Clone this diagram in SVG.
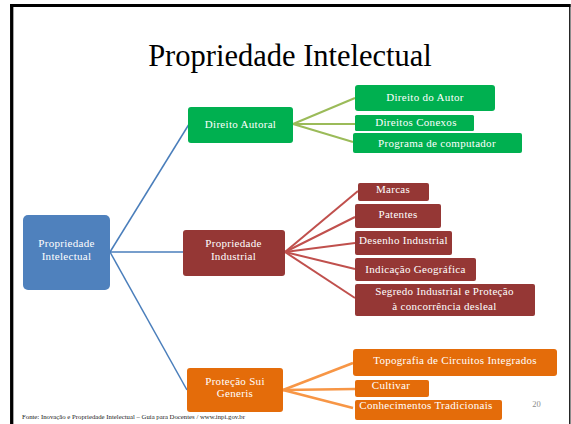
<svg xmlns="http://www.w3.org/2000/svg" width="571" height="424" viewBox="0 0 571 424">
<style>
.t{font-family:"Liberation Serif","Times New Roman",serif;font-size:11px;fill:#fff;text-anchor:middle;letter-spacing:0.3px}
.g{fill:#00B050}
.r{fill:#953735}
.o{fill:#E46C0A}
.b{fill:#4F81BD}
.cb{stroke:#4A7EBB;stroke-width:1.5;fill:none}
.cg{stroke:#9BBB59;stroke-width:2;fill:none}
.cr{stroke:#C0504D;stroke-width:2;fill:none}
.co{stroke:#F79646;stroke-width:2.5;fill:none}
</style>
<rect width="571" height="424" fill="#fff"/>
<g id="frame" stroke="#000" fill="none">
<line x1="10" y1="5.5" x2="570.5" y2="5.5" stroke-width="3"/>
<line x1="11.7" y1="4" x2="11.7" y2="424" stroke-width="3.3"/>
<line x1="569.8" y1="4" x2="569.8" y2="424" stroke-width="1.3"/>
</g>
<text id="title" x="290" y="66" font-family="Liberation Serif, Times New Roman, serif" font-size="30.5" text-anchor="middle" fill="#000">Propriedade Intelectual</text>
<g id="connectors">
<line class="cb" x1="110" y1="252" x2="188.5" y2="125"/>
<line class="cb" x1="110" y1="252" x2="183" y2="252"/>
<line class="cb" x1="110" y1="252" x2="187" y2="390"/>
<line class="cg" x1="293" y1="124" x2="355" y2="98"/>
<line class="cg" x1="293" y1="124" x2="355" y2="124" stroke-width="4.5"/>
<line class="cg" x1="293" y1="124" x2="353" y2="142"/>
<line class="cr" x1="285" y1="252" x2="358" y2="191"/>
<line class="cr" x1="285" y1="252" x2="355" y2="217"/>
<line class="cr" x1="285" y1="252" x2="355" y2="243"/>
<line class="cr" x1="285" y1="252" x2="355" y2="269"/>
<line class="cr" x1="285" y1="252" x2="355" y2="298"/>
<line class="co" x1="283" y1="390" x2="353" y2="363"/>
<line class="co" x1="283" y1="390" x2="355" y2="389"/>
<line class="co" x1="283" y1="390" x2="353" y2="408"/>
</g>
<g id="n-pi"><rect class="b" x="23" y="215" width="87" height="75" rx="5"/><text class="t" x="66.5" y="247.3">Propriedade</text><text class="t" x="66.5" y="260">Intelectual</text></g>
<g id="n-da"><rect class="g" x="188" y="107" width="105" height="36" rx="3"/><text class="t" x="240.5" y="127.5">Direito Autoral</text></g>
<g id="n-dau"><rect class="g" x="355" y="85" width="140" height="26" rx="3"/><text class="t" x="425" y="101">Direito do Autor</text></g>
<g id="n-dc"><rect class="g" x="355" y="115" width="119" height="16" rx="1.5"/><text class="t" x="416" y="126">Direitos Conexos</text></g>
<g id="n-pc"><rect class="g" x="353" y="133" width="169" height="20" rx="2"/><text class="t" x="437" y="146.5">Programa de computador</text></g>
<g id="n-ind"><rect class="r" x="183" y="230" width="102" height="46" rx="3"/><text class="t" x="233.5" y="247.3">Propriedade</text><text class="t" x="233.5" y="260">Industrial</text></g>
<g id="n-mar"><rect class="r" x="358" y="183" width="71" height="18" rx="2"/><text class="t" x="393" y="193.3">Marcas</text></g>
<g id="n-pat"><rect class="r" x="355" y="204" width="86" height="24" rx="2"/><text class="t" x="398" y="218">Patentes</text></g>
<g id="n-des"><rect class="r" x="355" y="231" width="97" height="24" rx="2"/><text class="t" x="403.5" y="244.3">Desenho Industrial</text></g>
<g id="n-geo"><rect class="r" x="355" y="258" width="121" height="23" rx="2"/><text class="t" x="415.5" y="272.5">Indicação Geográfica</text></g>
<g id="n-seg"><rect class="r" x="355" y="284" width="180" height="32" rx="2"/><text class="t" x="444.5" y="294.5">Segredo Industrial e Proteção</text><text class="t" x="444.5" y="309.5">à concorrência desleal</text></g>
<g id="n-sui"><rect class="o" x="187" y="368" width="96" height="44" rx="3"/><text class="t" x="235" y="385">Proteção Sui</text><text class="t" x="235" y="396.7">Generis</text></g>
<g id="n-top"><rect class="o" x="353" y="349" width="204" height="27" rx="3"/><text class="t" x="455" y="363.5">Topografia de Circuitos Integrados</text></g>
<g id="n-cul"><rect class="o" x="355" y="380" width="74" height="17" rx="2"/><text class="t" x="391" y="389">Cultivar</text></g>
<g id="n-con"><rect class="o" x="355" y="400" width="147" height="20" rx="2"/><text class="t" x="426" y="409">Conhecimentos Tradicionais</text></g>
<text id="footer" x="22" y="419" font-family="Liberation Serif, Times New Roman, serif" font-size="6.3" fill="#222" textLength="223" lengthAdjust="spacingAndGlyphs">Fonte: Inovação e Propriedade Intelectual – Guia para Docentes / www.inpi.gov.br</text>
<text id="pagenum" x="536.5" y="406.5" font-family="Liberation Serif, Times New Roman, serif" font-size="8.5" fill="#8C8C8C" text-anchor="middle">20</text>
</svg>
